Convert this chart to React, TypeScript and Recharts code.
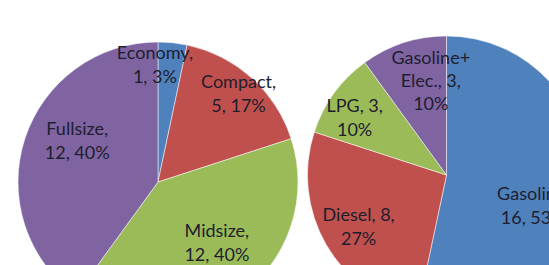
import React from "react";
import { PieChart, Pie, Cell } from "recharts";

const sizeCategories = ["Economy", "Compact", "Midsize", "Fullsize"];
const sizeCounts = [1, 5, 12, 12];

const fuelCategories = ["Gasoline", "Diesel", "LPG", "Gasoline+Elec."];
const fuelCounts = [16, 8, 3, 3];

const COLORS = ["#4F81BD", "#C0504D", "#9BBB59", "#8064A2"];

// label placement style: radius fraction, angle nudge (deg, clockwise), wrap mode
const LABEL_STYLE: Record<string, { rf: number; da: number; wrap: "name" | "value" }> = {
  Economy: { rf: 0.84, da: -7.5, wrap: "name" },
  Compact: { rf: 0.86, da: 0, wrap: "name" },
  Midsize: { rf: 0.6, da: -8.5, wrap: "name" },
  Fullsize: { rf: 0.65, da: 9.4, wrap: "name" },
  Gasoline: { rf: 0.66, da: 13, wrap: "name" },
  Diesel: { rf: 0.73, da: 0, wrap: "value" },
  LPG: { rf: 0.78, da: -3.9, wrap: "value" },
  "Gasoline+Elec.": { rf: 0.69, da: 8.6, wrap: "value" },
};

const sizeData = sizeCategories.map((name, i) => ({ name, value: sizeCounts[i] }));
const fuelData = fuelCategories.map((name, i) => ({ name, value: fuelCounts[i] }));

const RAD = Math.PI / 180;
const LINE_H = 24;

function renderLabel(props: any) {
  const { cx, cy, midAngle, outerRadius, percent, name, value } = props;
  const st = LABEL_STYLE[name] || { rf: 0.7, da: 0, wrap: "name" };
  const ang = midAngle - st.da;
  const r = outerRadius * st.rf;
  const x = cx + r * Math.cos(ang * RAD);
  const y = cy - r * Math.sin(ang * RAD);
  const pct = `${Math.round(percent * 100)}%`;
  let lines: string[];
  const nameParts = name.includes("+") ? [name.split("+")[0] + "+", name.split("+")[1]] : [name];
  if (st.wrap === "name") {
    lines = [...nameParts.slice(0, -1), nameParts[nameParts.length - 1] + ",", `${value}, ${pct}`];
  } else {
    lines = [...nameParts.slice(0, -1), `${nameParts[nameParts.length - 1]}, ${value},`, pct];
  }
  const lh = lines.length > 2 ? 23 : LINE_H;
  const y0 = y - ((lines.length - 1) * lh) / 2;
  return (
    <text
      x={x}
      y={y0}
      textAnchor="middle"
      dominantBaseline="central"
      fontFamily="Lato, 'Liberation Sans', sans-serif"
      fontSize={18}
      fill="#1e1e2e"
    >
      {lines.map((ln, i) => (
        <tspan key={i} x={x} y={y0 + i * lh} dominantBaseline="central">
          {ln}
        </tspan>
      ))}
    </text>
  );
}

export default function App() {
  return (
    <div style={{ position: "absolute", left: 0, top: 0, width: 549, height: 265, background: "#fff", overflow: "hidden" }}>
      <PieChart width={549} height={265} margin={{ top: 0, right: 0, bottom: 0, left: 0 }}>
        <Pie
          data={sizeData}
          dataKey="value"
          nameKey="name"
          cx={158}
          cy={182}
          outerRadius={140}
          startAngle={90}
          endAngle={-270}
          isAnimationActive={false}
          labelLine={false}
          label={renderLabel}
          stroke="#ffffff"
          strokeWidth={0.5}
        >
          {sizeData.map((d, i) => (
            <Cell key={d.name} fill={COLORS[i]} />
          ))}
        </Pie>
        <Pie
          data={fuelData}
          dataKey="value"
          nameKey="name"
          cx={446.5}
          cy={175}
          outerRadius={139}
          startAngle={90}
          endAngle={-270}
          isAnimationActive={false}
          labelLine={false}
          label={renderLabel}
          stroke="#ffffff"
          strokeWidth={0.5}
        >
          {fuelData.map((d, i) => (
            <Cell key={d.name} fill={COLORS[i]} />
          ))}
        </Pie>
      </PieChart>
    </div>
  );
}
